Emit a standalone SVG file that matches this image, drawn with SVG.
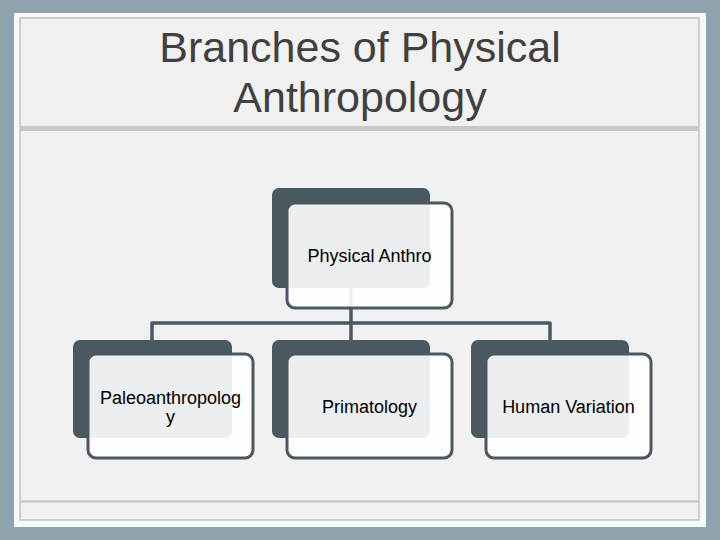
<svg xmlns="http://www.w3.org/2000/svg" width="720" height="540" viewBox="0 0 720 540">
<style>
.title{font-family:"Liberation Sans",Arial,sans-serif;font-size:43px;fill:#404040;text-anchor:middle}
.lbl{font-family:"Liberation Sans",Arial,sans-serif;font-size:18px;fill:#000;text-anchor:middle}
.back{fill:#4a5860}
.front{fill:#fff;fill-opacity:0.9;stroke:#4a5860;stroke-width:3}
.conn{fill:none;stroke:#4a5860;stroke-width:3.5;stroke-linejoin:round;stroke-linecap:butt}
</style>
<rect x="0" y="0" width="720" height="540" fill="#8fa3ad"/>
<rect x="14" y="13" width="692" height="514" fill="#f7f8f8"/>
<rect x="20" y="18" width="679" height="502" fill="#f1f1f1" stroke="#c2c2be" stroke-width="1.5"/>
<rect x="20" y="126" width="679" height="5" fill="#c8c8c4"/>
<line x1="20" y1="501.5" x2="699" y2="501.5" stroke="#c4c4c0" stroke-width="2"/>
<text class="title" x="360" y="62">Branches of Physical</text>
<text class="title" x="360" y="112">Anthropology</text>
<g id="connectors">
<path class="conn" d="M152 340 V323 H550 V340"/>
<path class="conn" d="M351 288 V340"/>
</g>
<g id="node-physical-anthro">
<rect class="back" x="272" y="188" width="158" height="100" rx="7"/>
<rect class="front" x="287" y="203" width="165" height="105" rx="8"/>
<text class="lbl" x="369.5" y="262">Physical Anthro</text>
</g>
<g id="node-paleoanthropology">
<rect class="back" x="73" y="340" width="159" height="98" rx="7"/>
<rect class="front" x="88" y="354" width="165" height="104" rx="8"/>
<text class="lbl" x="170.5" y="404">Paleoanthropolog</text>
<text class="lbl" x="170.5" y="423">y</text>
</g>
<g id="node-primatology">
<rect class="back" x="272" y="340" width="158" height="98" rx="7"/>
<rect class="front" x="287" y="354" width="165" height="104" rx="8"/>
<text class="lbl" x="369.5" y="413">Primatology</text>
</g>
<g id="node-human-variation">
<rect class="back" x="471" y="340" width="158" height="98" rx="7"/>
<rect class="front" x="486" y="354" width="165" height="104" rx="8"/>
<text class="lbl" x="568.5" y="413">Human Variation</text>
</g>
</svg>
